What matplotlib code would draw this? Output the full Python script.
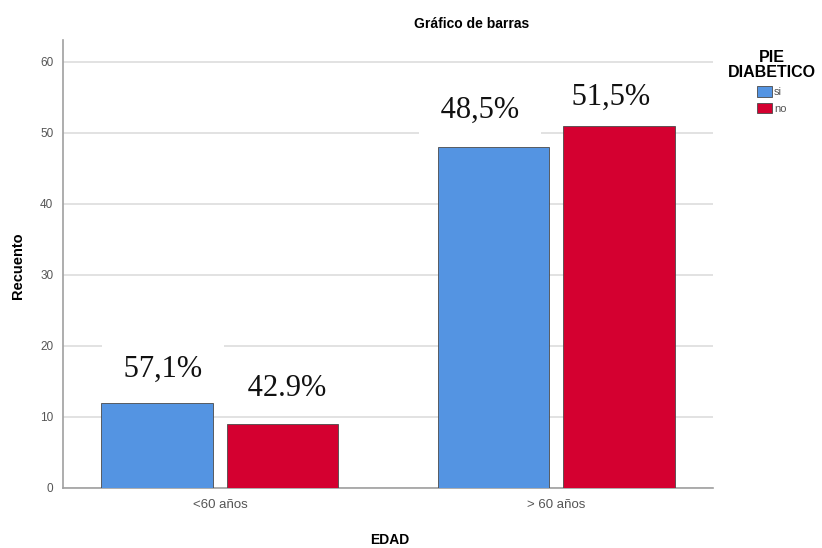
import matplotlib
matplotlib.use("Agg")
import matplotlib.pyplot as plt
import numpy as np
from matplotlib.patches import Patch

categories = ["<60 años", "> 60 años"]
series_names = ["si", "no"]
si_values = [12, 48]
no_values = [9, 51]
si_labels = ["57,1%", "48,5%"]
no_labels = ["42.9%", "51,5%"]
yticks = [0, 10, 20, 30, 40, 50, 60]

blue = "#5494E2"
red = "#D40030"
grid_c = "#DADADA"
tick_c = "#555555"

plt.rcParams['font.family'] = ['Liberation Sans', 'DejaVu Sans']

fig = plt.figure(figsize=(8.22, 5.48), dpi=100)
ax = fig.add_axes([63/822, (548-488)/548, (713-63)/822, (488-40)/548])

x = np.arange(len(categories))
w = 0.333
off = 0.186
b1 = ax.bar(x - off, si_values, w, color=blue, edgecolor="#4a4a4a", linewidth=0.6, zorder=3)
b2 = ax.bar(x + off, no_values, w, color=red, edgecolor="#4a4a4a", linewidth=0.6, zorder=3)

ax.set_xlim(-0.467, 1.467)
ax.set_ylim(0, 63.05)
ax.set_yticks(yticks)
ax.set_xticks(x)
ax.set_xticklabels(categories)
ax.yaxis.grid(True, color=grid_c, linewidth=1.1, zorder=0)
ax.set_axisbelow(True)
for s in ["top", "right"]:
    ax.spines[s].set_visible(False)
for s in ["left", "bottom"]:
    ax.spines[s].set_color("#A0A0A0")
    ax.spines[s].set_linewidth(1.2)
ax.tick_params(axis="y", length=0, pad=7, labelsize=8.5, labelcolor=tick_c)
ax.tick_params(axis="x", length=0, pad=8, labelsize=9.5, labelcolor=tick_c)

fig.text(18/822, 1 - 266/548, "Recuento", rotation=90, ha="center", va="center",
         fontsize=10.5, fontweight="bold")
fig.text(390/822, 1 - 540/548, "EDAD", ha="center", va="center",
         fontsize=10, fontweight="bold")
fig.text(472/822, 1 - 24/548, "Gráfico de barras", ha="center", va="center",
         fontsize=10, fontweight="bold")

# percentage annotations
offsets_px = [(5.5, 33), (4.5, 36), (-13.5, 37), (-7.5, 28)]
bars = [b1[0], b2[0], b1[1], b2[1]]
labels = [si_labels[0], no_labels[0], si_labels[1], no_labels[1]]
for bar, lab, (dx, dy) in zip(bars, labels, offsets_px):
    cx = bar.get_x() + bar.get_width() / 2
    ax.annotate(" " + lab + " ", xy=(cx, bar.get_height()), xytext=(dx, dy),
                textcoords="offset pixels", ha="center", va="center",
                fontsize=22, family=["Liberation Serif", "DejaVu Serif"],
                color="#111111", zorder=4,
                bbox=dict(boxstyle="square,pad=0.45", facecolor="white", edgecolor="none"))

handles = [Patch(facecolor=blue, edgecolor="#4a4a4a", linewidth=0.6),
           Patch(facecolor=red, edgecolor="#4a4a4a", linewidth=0.6)]
leg = fig.legend(handles, series_names, title="PIE\nDIABETICO",
                 loc="upper center", bbox_to_anchor=(772/822, 1 - 46/548),
                 borderaxespad=0, frameon=False, fontsize=8,
                 handlelength=1.3, handleheight=1.1,
                 handletextpad=0.2, labelspacing=0.5,
                 title_fontproperties={"weight": "bold", "size": 11.5})
leg._legend_box.align = "center"
leg.get_title().set_multialignment("center")
leg.get_title().set_linespacing(1.0)
for t in leg.get_texts():
    t.set_color(tick_c)

fig.savefig("out.png", dpi=100)
